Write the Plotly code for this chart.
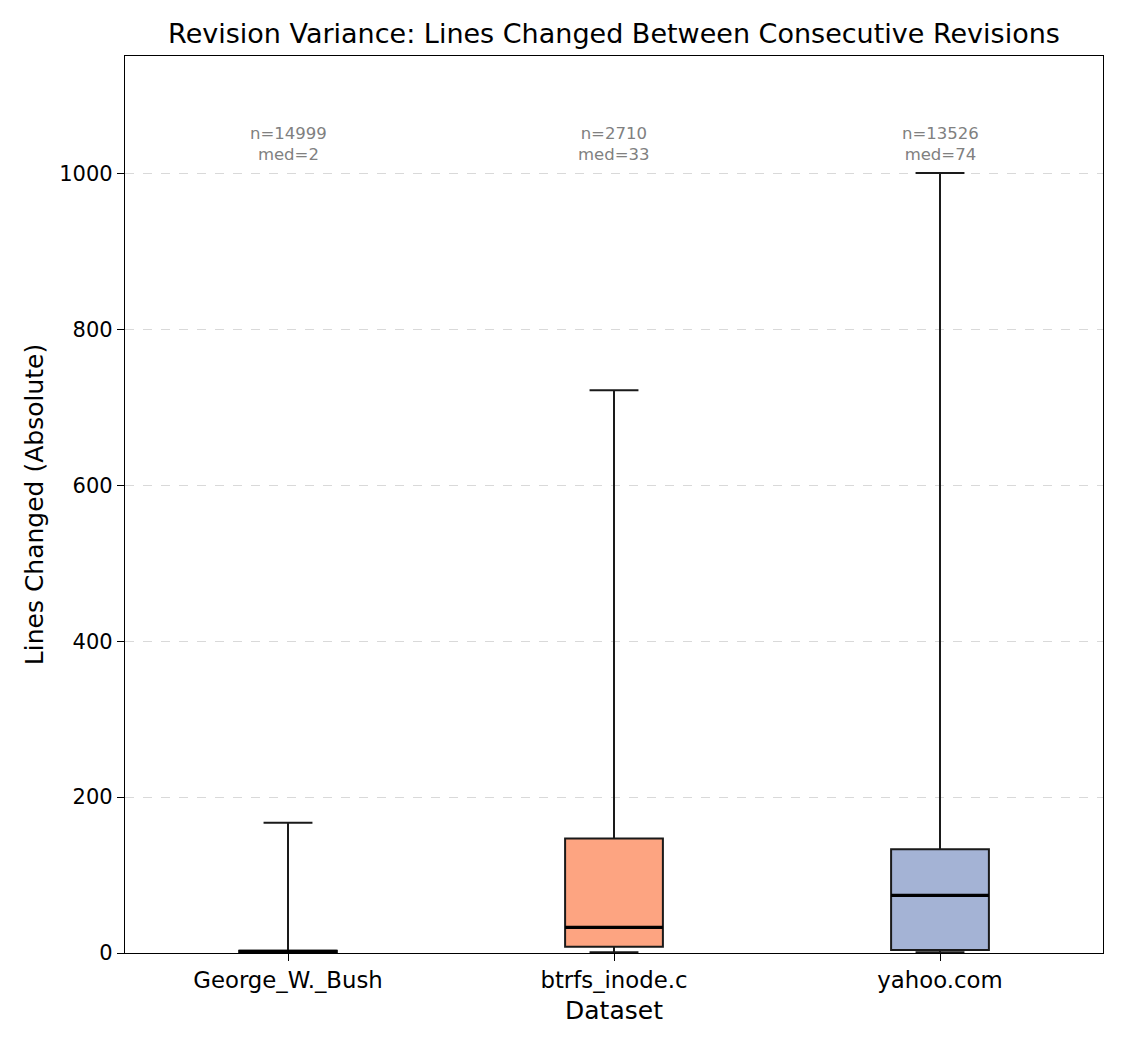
import plotly.graph_objects as go

datasets = ["George_W._Bush", "btrfs_inode.c", "yahoo.com"]
q1_vals = [0, 8, 4]
median_vals = [2, 33, 74]
q3_vals = [3, 147, 133]
lower_vals = [0, 1, 1]
upper_vals = [167, 722, 1001]
n_vals = [14999, 2710, 13526]
fill_colors = ["rgba(102,194,165,0.8)", "rgba(252,141,98,0.8)", "rgba(141,160,203,0.8)"]

FONT = "DejaVu Sans"
W, H = 1117, 1042  # page body has an 8px margin
fig = go.Figure()
for i, name in enumerate(datasets):
    fig.add_trace(go.Box(
        x=[name], q1=[q1_vals[i]], median=[median_vals[i]], q3=[q3_vals[i]],
        lowerfence=[lower_vals[i]], upperfence=[upper_vals[i]],
        fillcolor=fill_colors[i], line=dict(color="#1a1a1a", width=2),
        width=0.3, whiskerwidth=0.5, boxpoints=False, showlegend=False, name=name,
    ))
for i, name in enumerate(datasets):
    # thicker median line drawn as a degenerate box at the median value
    m = median_vals[i]
    fig.add_trace(go.Box(
        x=[name], q1=[m], median=[m], q3=[m], lowerfence=[m], upperfence=[m],
        fillcolor="rgba(0,0,0,0)", line=dict(color="black", width=3.2),
        width=0.3, whiskerwidth=0, boxpoints=False, showlegend=False, name=name,
        hoverinfo="skip",
    ))
for i, name in enumerate(datasets):
    fig.add_annotation(x=name, y=1010, yanchor="bottom", showarrow=False,
                       text=f"n={n_vals[i]}<br>med={median_vals[i]}",
                       font=dict(family=FONT, size=16.5, color="gray"))

fig.update_layout(
    width=W, height=H,
    margin=dict(l=117, r=22, t=48, b=97),
    paper_bgcolor="white", plot_bgcolor="white",
    font=dict(family=FONT, color="black"),
    title=dict(text="Revision Variance: Lines Changed Between Consecutive Revisions",
               x=0.5, xanchor="center", xref="paper", y=1 - 26 / H, yanchor="middle",
               font=dict(size=27, family=FONT)),
    boxmode="overlay",
)
fig.update_xaxes(
    title=dict(text="Dataset", font=dict(size=25), standoff=9),
    range=[-0.5, 2.5], showline=True, linecolor="black", linewidth=1.2, mirror=True,
    ticks="outside", ticklen=7, tickcolor="black", tickfont=dict(size=22.8),
    showgrid=False,
)
fig.update_yaxes(
    title=dict(text="Lines Changed (Absolute)", font=dict(size=25), standoff=8),
    range=[0, 1151], tickvals=[0, 200, 400, 600, 800, 1000],
    showline=True, linecolor="black", linewidth=1.2, mirror=True,
    ticks="outside", ticklen=7, tickcolor="black", tickfont=dict(size=21),
    showgrid=True, gridcolor="rgba(180,180,180,0.5)", griddash="dash", gridwidth=1.2,
    zeroline=False,
)
fig.write_html("out.html")
